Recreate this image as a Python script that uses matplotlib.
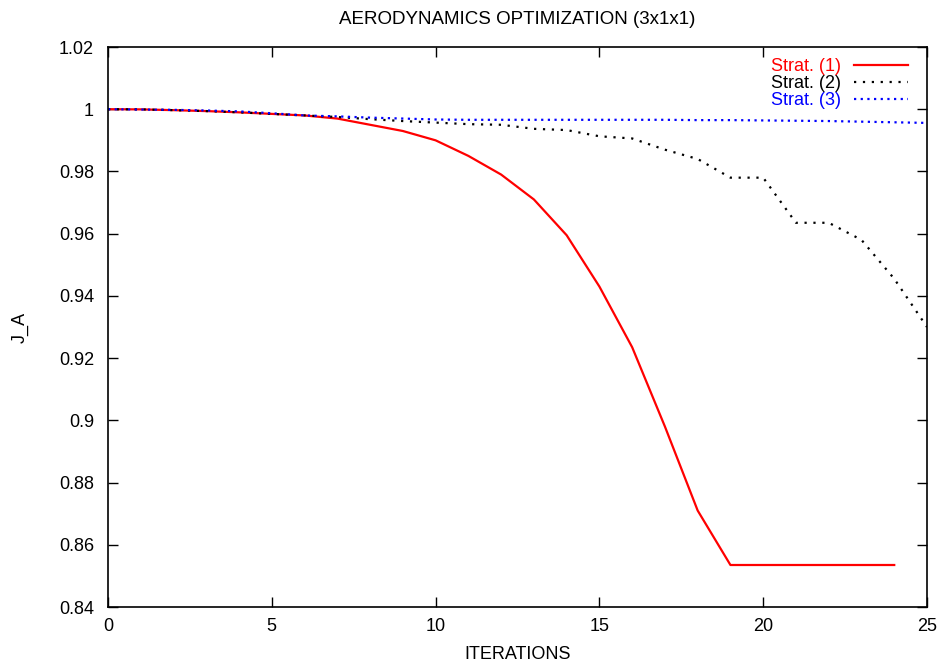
import matplotlib
matplotlib.use("Agg")
import matplotlib.pyplot as plt
from matplotlib.ticker import FuncFormatter, MultipleLocator

plt.rcParams['font.family'] = ['Liberation Sans', 'DejaVu Sans']

iter_1 = list(range(0, 25))
strat_1 = [1.0, 0.99995, 0.9997, 0.9994, 0.999, 0.9985, 0.998, 0.997, 0.995, 0.993,
           0.990, 0.985, 0.979, 0.971, 0.9595, 0.943, 0.9235, 0.898, 0.871, 0.8535,
           0.8535, 0.8535, 0.8535, 0.8535, 0.8535]

iter_2 = list(range(0, 26))
strat_2 = [1.0, 0.99995, 0.9997, 0.9994, 0.999, 0.9985, 0.998, 0.9975, 0.9968, 0.9962,
           0.9957, 0.9952, 0.995, 0.9937, 0.9933, 0.9913, 0.9906, 0.987, 0.984, 0.978,
           0.978, 0.9635, 0.9635, 0.958, 0.9455, 0.930]

iter_3 = list(range(0, 26))
strat_3 = [1.0, 0.9999, 0.9998, 0.9996, 0.9993, 0.9987, 0.998, 0.9977, 0.9973, 0.997,
           0.9967, 0.9966, 0.9966, 0.9966, 0.9966, 0.9966, 0.9966, 0.9966, 0.9965, 0.9965,
           0.9964, 0.9963, 0.9962, 0.996, 0.9958, 0.9956]

labels = ["Strat. (1)", "Strat. (2)", "Strat. (3)"]
colors = ["#ff0000", "#000000", "#0000ff"]

fig = plt.figure(figsize=(9.43, 6.66), dpi=100)
ax = fig.add_axes([108/943, 1-607/666, (927-108)/943, (607-47)/666])

ax.plot(iter_1, strat_1, color=colors[0], lw=1.6, label=labels[0])
ax.plot(iter_2, strat_2, color=colors[1], lw=1.6, linestyle=(0, (1.0, 3.0)), label=labels[1])
ax.plot(iter_3, strat_3, color=colors[2], lw=1.6, linestyle=(0, (1.0, 2.0)), label=labels[2])

ax.set_xlim(0, 25)
ax.set_ylim(0.84, 1.02)
ax.xaxis.set_major_locator(MultipleLocator(5))
ax.yaxis.set_major_locator(MultipleLocator(0.02))
ax.yaxis.set_major_formatter(FuncFormatter(lambda v, p: "%g" % round(v, 4)))
ax.tick_params(direction='in', length=7, width=1, top=True, right=True,
               labelsize=13)
ax.tick_params(axis='y', pad=10)
ax.tick_params(axis='x', pad=8)
for s in ax.spines.values():
    s.set_linewidth(1.2)

ax.set_xlabel("ITERATIONS", fontsize=13, labelpad=8)
ax.set_ylabel("J_A", fontsize=13, labelpad=22)
fig.text(517/943, 1-20/666, "AERODYNAMICS OPTIMIZATION (3x1x1)", ha='center', va='center',
         fontsize=13.5)

leg = ax.legend(loc='upper right', frameon=False, markerfirst=False, fontsize=13,
                handlelength=3.0, handletextpad=0.7, labelspacing=0.0,
                borderaxespad=0.2, bbox_to_anchor=(0.99, 1.0), labelcolor='linecolor')

fig.savefig("out.png", dpi=100)
